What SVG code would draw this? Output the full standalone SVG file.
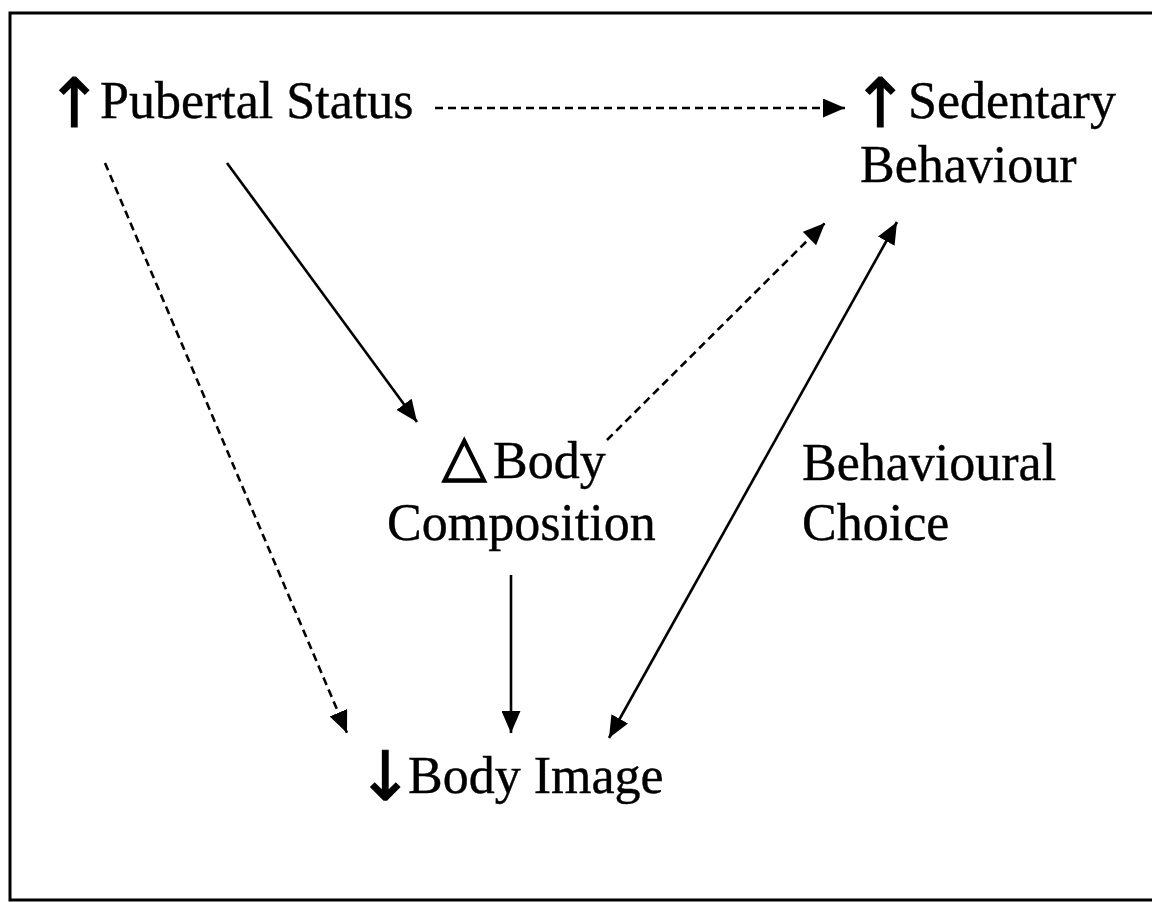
<svg xmlns="http://www.w3.org/2000/svg" width="1152" height="902" viewBox="0 0 1152 902">
  <style>
    .lbl { font-family: "Liberation Serif", "Times New Roman", serif; font-size: 52px; fill: #000; stroke: #000; stroke-width: 0.4; }
    .sym { font-family: "DejaVu Sans", sans-serif; font-size: 58px; fill: #000; stroke: #000; stroke-width: 1.2; }
    .arr { font-size: 68px; }
    .edge { stroke: #000; stroke-width: 2.6; fill: none; }
    .dash { stroke-dasharray: 8 5; }
    .frame { stroke: #000; stroke-width: 3; fill: none; }
  </style>
  <defs>
    <marker id="ah" viewBox="0 0 22 19" refX="22" refY="9.5" markerUnits="userSpaceOnUse" markerWidth="22" markerHeight="19" orient="auto-start-reverse">
      <path d="M0,0 L22,9.5 L0,19 z" fill="#000"/>
    </marker>
  </defs>
  <rect width="1152" height="902" fill="#fff"/>
  <path class="frame" d="M1152,13 L10,13 L10,900 L1152,900"/>

  <g id="connectors">
    <line class="edge dash" x1="435" y1="108" x2="845" y2="108" marker-end="url(#ah)"/>
    <line class="edge dash" x1="105" y1="163" x2="347" y2="733" marker-end="url(#ah)"/>
    <line class="edge" x1="227" y1="163" x2="417" y2="422" marker-end="url(#ah)"/>
    <line class="edge dash" x1="607" y1="440" x2="825" y2="223" marker-end="url(#ah)"/>
    <line class="edge" x1="897" y1="222" x2="609" y2="738" marker-start="url(#ah)" marker-end="url(#ah)"/>
    <line class="edge" x1="511" y1="575" x2="511" y2="733" marker-end="url(#ah)"/>
  </g>

  <g id="pubertal">
    <text class="sym arr" x="46" y="127">↑</text>
    <text class="lbl" x="100" y="118">Pubertal Status</text>
  </g>
  <g id="sedentary">
    <text class="sym arr" x="852" y="127">↑</text>
    <text class="lbl" x="908" y="118">Sedentary</text>
    <text class="lbl" x="860" y="182">Behaviour</text>
  </g>
  <g id="bodycomp">
    <text class="sym" x="442" y="475">△</text>
    <text class="lbl" x="493" y="478">Body</text>
    <text class="lbl" x="387" y="540">Composition</text>
  </g>
  <g id="choice">
    <text class="lbl" x="802" y="480">Behavioural</text>
    <text class="lbl" x="802" y="540">Choice</text>
  </g>
  <g id="bodyimage">
    <text class="sym arr" x="357" y="800">↓</text>
    <text class="lbl" x="408" y="793">Body Image</text>
  </g>
</svg>
